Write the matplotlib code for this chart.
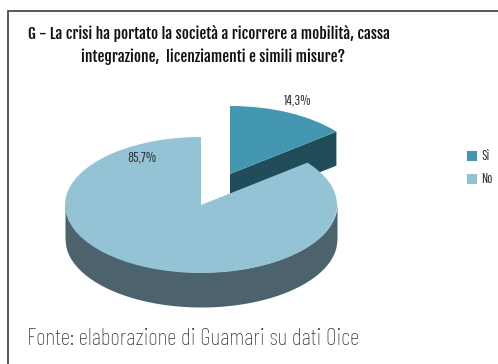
import logging
import numpy as np
import matplotlib
matplotlib.use("Agg")
import matplotlib.pyplot as plt

logging.getLogger("matplotlib.font_manager").setLevel(logging.ERROR)

labels = ["Sì", "No"]
values = [14.3, 85.7]
colors = ["#4397b0", "#93c3d5"]
side_colors = ["#214c5a", "#4c636e"]

title_lines = ["G - La crisi ha portato la società a ricorrere a mobilità, cassa",
               "integrazione,  licenziamenti e simili misure?"]
source = "Fonte: elaborazione di Guamari su dati Oice"

W, H = 498, 364
title_font = ["Fjalla One", "Liberation Sans"]
label_font = ["Pathway Gothic One", "Liberation Sans"]
source_font = ["Barlow Condensed", "Liberation Sans"]

# y is stretched by 2 so a round pie comes out as a flat ellipse
def py(y):
    return 2 * (H - y)

radius = 136
depth = 34 * 2
big_c = (201, py(205))
small_c = (230, py(174))

fig = plt.figure(figsize=(W / 100, H / 100), dpi=100)
ax = fig.add_axes([0, 0, 1, 1])

# small slice: cut side first, then the top
a = np.radians(90 - 360 * values[0] / 100)
ex, ey = small_c[0] + radius * np.cos(a), small_c[1] + radius * np.sin(a)
ax.fill([small_c[0], ex, ex, small_c[0]], [small_c[1], ey, ey - depth, small_c[1] - depth],
        color=side_colors[0], lw=0)
ax.pie(values, startangle=90, counterclock=False, center=small_c, radius=radius, colors=[colors[0], "none"])

# big slice: round wall then the top
x = np.linspace(big_c[0] - radius, big_c[0] + radius, 300)
arc = big_c[1] - np.sqrt(np.maximum(radius ** 2 - (x - big_c[0]) ** 2, 0))
ax.fill_between(x, arc - depth, arc + 2, color=side_colors[1], lw=0)
ax.pie(values, startangle=90, counterclock=False, center=big_c, radius=radius, colors=["none", colors[1]])

ax.set_aspect("auto")
ax.set_xlim(0, W)
ax.set_ylim(0, 2 * H)
ax.axis("off")

# frame, only top and left are in the crop
ax.plot([8, 8, W], [py(H), py(11), py(11)], color="#4a4a4a", lw=1.3, clip_on=False, solid_joinstyle="miter")

ax.text(28, py(33), title_lines[0], family=title_font, fontsize=11.1, color="#111111", va="center")
ax.text(81, py(57), title_lines[1], family=title_font, fontsize=11.1, color="#111111", va="center")

ax.text(298, py(100), f"{values[0]:.1f}%".replace(".", ","), family=label_font, fontsize=10.5, color="#333333",
        ha="center", va="center")
ax.text(142, py(157), f"{values[1]:.1f}%".replace(".", ","), family=label_font, fontsize=10.5, color="#333333",
        ha="center", va="center")

for i, lab in enumerate(labels):
    y = 156 + i * 23
    ax.fill([467, 477, 477, 467], [py(y - 5), py(y - 5), py(y + 5), py(y + 5)], color=colors[i], lw=0)
    ax.text(481, py(y), lab, family=label_font, fontsize=10, color="#333333", va="center")

ax.text(27, py(339), source, family=source_font, weight="light", fontsize=16.9, color="#333333", va="center")

fig.savefig("out.png", dpi=100)
